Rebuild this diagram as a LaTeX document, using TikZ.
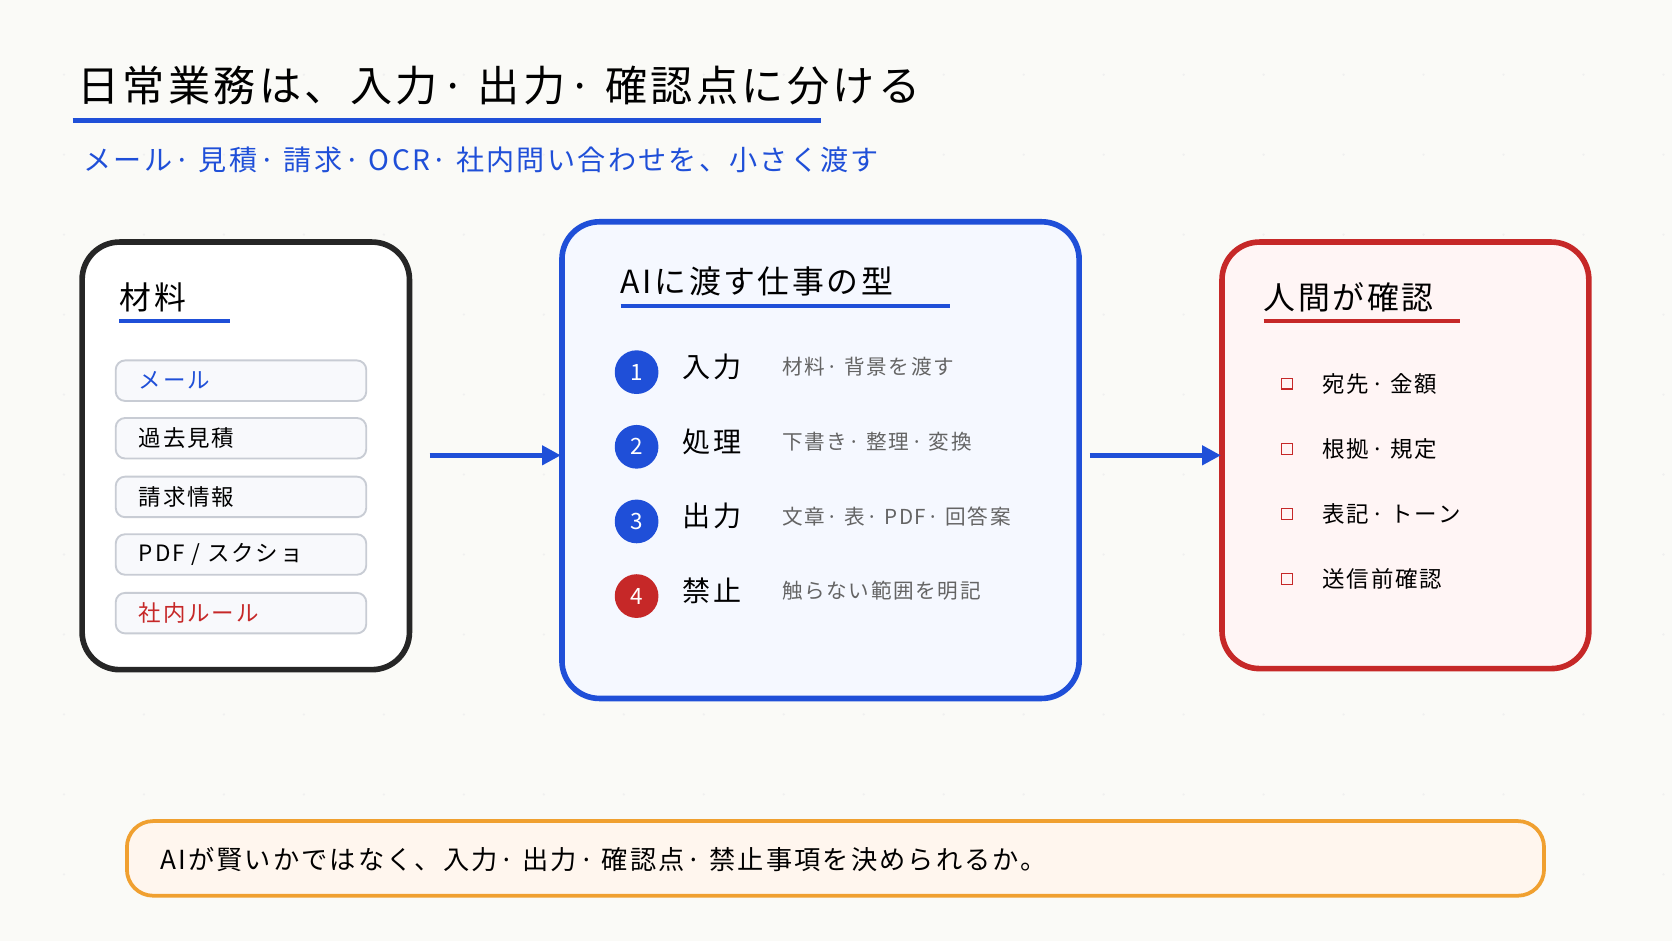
\documentclass[tikz,border=0pt]{standalone}
\usepackage{fontspec}
\setmainfont{Noto Sans CJK JP}[LetterSpace=8]
\usetikzlibrary{arrows.meta}
\definecolor{mainblue}{RGB}{31, 79, 216}
\definecolor{mainred}{RGB}{198, 40, 40}
\definecolor{mainorange}{RGB}{240, 160, 48}
\definecolor{textgray}{RGB}{100, 100, 100}
\definecolor{bgpaper}{RGB}{250, 250, 247}
\tikzstyle{panel}=[rounded corners=20, line width=3pt]
\tikzstyle{item_box}=[rectangle, draw={rgb,255:red,200;green,204;blue,212}, fill={rgb,255:red,248;green,249;blue,252},
    rounded corners=5, line width=1pt, minimum width=4.7cm, minimum height=0.76cm]
\tikzstyle{item_text}=[anchor=west, font=\fontsize{12}{14}\selectfont, inner sep=0pt]
\tikzstyle{step_dot}=[circle, minimum size=0.82cm, inner sep=0pt, text=white, font=\fontsize{12}{14}\selectfont]
\tikzstyle{flow_arrow}=[draw=mainblue, line width=2.5pt, -{Triangle[length=10pt,width=10pt]}]

\begin{document}
\begin{tikzpicture}[x=0.02cm, y=-0.02cm]
  % Background with faint dots
  \fill[bgpaper] (0,0) rectangle (1568,882);
  \useasboundingbox (0,0) rectangle (1568,882);
  \foreach \i in {0,...,20} {
    \foreach \j in {0,...,11} {
      \fill[black!6] ({60+75*\i},{70+75*\j}) circle (1.2);
    }
  }

  % Title and subtitle
  \node[anchor=west, inner sep=0pt, font=\fontsize{22.5}{26}\selectfont] (title) at (72,80) {日常業務は、入力· 出力· 確認点に分ける};
  \draw[mainblue, line width=2.5pt] (68,113) -- (770,113);
  \node[anchor=west, inner sep=0pt, text=mainblue, font=\fontsize{15}{18}\selectfont] (subtitle) at (78,150) {メール· 見積· 請求· OCR· 社内問い合わせを、小さく渡す};

  % Left panel: materials
  \draw[panel, draw=black!85, fill=white] (77,227) rectangle (384,628);
  \node[anchor=west, inner sep=0pt, font=\fontsize{17}{20}\selectfont] (mat) at (112,279) {材料};
  \draw[mainblue, line width=2pt] (112,301) -- (216,301);
  \foreach \y/\txt/\col [count=\k] in {357/メール/mainblue, 411/過去見積/black, 466/請求情報/black, 520/{PDF / スクショ}/black, 575/社内ルール/mainred} {
    \node[item_box] (m\k) at (226,\y) {};
    \node[item_text, text=\col] at (130,\y) {\txt};
  }

  % Middle panel: job types
  \draw[panel, draw=mainblue, fill={rgb,255:red,245;green,248;blue,255}] (527,208) rectangle (1012,655);
  \node[anchor=west, inner sep=0pt, font=\fontsize{17}{20}\selectfont] (ai) at (582,264) {AIに渡す仕事の型};
  \draw[mainblue, line width=2pt] (582,287) -- (891,287);
  \foreach \y/\n/\lab/\desc/\col in {349/1/入力/材料· 背景を渡す/mainblue, 419/2/処理/下書き· 整理· 変換/mainblue, 489/3/出力/文章· 表· PDF· 回答案/mainblue, 559/4/禁止/触らない範囲を明記/mainred} {
    \node[step_dot, fill=\col] (s\n) at (597,\y) {\n};
    \node[item_text, font=\fontsize{15}{18}\selectfont] at (640,{\y-5}) {\lab};
    \node[item_text, text=textgray, font=\fontsize{11}{13}\selectfont] at (733,{\y-5}) {\desc};
  }

  % Right panel: human check
  \draw[panel, draw=mainred, fill={rgb,255:red,255;green,245;blue,245}] (1146,227) rectangle (1490,627);
  \node[anchor=west, inner sep=0pt, font=\fontsize{17}{20}\selectfont] (chk) at (1185,279) {人間が確認};
  \draw[mainred, line width=2pt] (1185,301) -- (1369,301);
  \foreach \y/\txt in {360/宛先· 金額, 421/根拠· 規定, 482/表記· トーン, 543/送信前確認} {
    \draw[mainred, line width=0.8pt] (1202,{\y-5}) rectangle (1212,{\y+5});
    \node[item_text] at (1240,\y) {\txt};
  }

  % Arrows between panels
  \coordinate (a1) at (403,427);
  \coordinate (a2) at (526,427);
  \coordinate (b1) at (1022,427);
  \coordinate (b2) at (1145,427);
  \draw[flow_arrow] (a1) -- (a2);
  \draw[flow_arrow] (b1) -- (b2);

  % Bottom note
  \draw[draw=mainorange, line width=2pt, rounded corners=14, fill={rgb,255:red,255;green,246;blue,238}] (119,770) rectangle (1448,840);
  \node[item_text, font=\fontsize{14}{17}\selectfont] (note) at (150,806) {AIが賢いかではなく、入力· 出力· 確認点· 禁止事項を決められるか。};

\end{tikzpicture}
\end{document}
